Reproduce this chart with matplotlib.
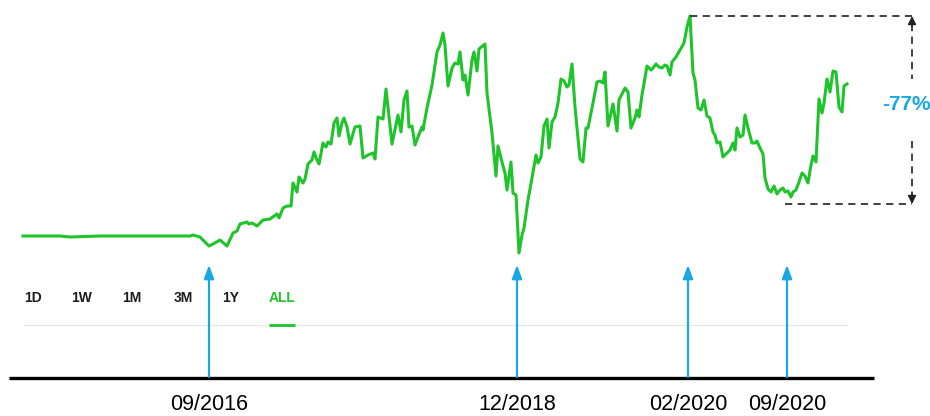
import matplotlib
matplotlib.use("Agg")
import matplotlib.pyplot as plt

# price history (time index, price)
t = [23, 60, 70, 100, 150, 190, 193, 200, 209, 213, 220, 227, 233, 237, 240, 247, 249, 252,
     257, 263, 270, 277, 279, 283, 287, 291, 293, 297, 299, 303, 305, 308, 312, 314, 317, 319,
     323, 326, 328, 331, 334, 337, 339, 342, 344, 347, 350, 355, 360, 363, 368, 373, 375, 378,
     383, 386, 392, 398, 401, 404, 407, 409, 412, 415, 418, 422, 423, 427, 432, 437, 440, 443,
     445, 448, 452, 455, 458, 460, 463, 465, 468, 472, 474, 477, 479, 485, 487, 492, 496, 498,
     502, 505, 507, 511, 513, 516, 519, 522, 524, 528, 532, 536, 538, 541, 544, 547, 549, 552,
     555, 558, 561, 564, 567, 569, 572, 575, 580, 583, 586, 588, 593, 597, 600, 603, 605, 608,
     612, 613, 617, 619, 625, 628, 631, 635, 637, 639, 642, 647, 651, 653, 656, 659, 662, 665,
     667, 670, 672, 676, 680, 684, 687, 690, 693, 695, 698, 701, 704, 707, 710, 713, 715, 717,
     720, 723, 727, 730, 733, 735, 737, 740, 743, 745, 748, 752, 755, 757, 760, 763, 765, 768,
     771, 774, 777, 780, 783, 785, 788, 791, 793, 796, 799, 802, 805, 808, 811, 813, 816, 819,
     822, 824, 827, 830, 833, 836, 839, 842, 844, 847]
price = [9.6, 9.6, 9.2, 9.6, 9.6, 9.6, 10.0, 9.2, 5.6, 6.4, 8.0, 5.6, 10.8, 11.6, 14.4, 15.2, 14.4, 14.8,
         13.6, 16.0, 16.4, 18.4, 16.8, 20.8, 21.6, 21.6, 30.8, 27.2, 33.2, 30.8, 32.4, 38.4, 40.0, 43.2, 40.0, 38.4,
         46.8, 45.2, 47.2, 46.4, 54.8, 56.8, 49.6, 54.8, 56.8, 53.2, 46.4, 53.2, 53.6, 40.8, 42.0, 42.8, 40.4, 57.2,
         56.4, 68.4, 46.4, 58.0, 51.2, 64.0, 67.6, 53.2, 53.6, 46.0, 49.2, 53.2, 52.0, 60.8, 70.0, 83.2, 86.0, 90.8,
         86.0, 69.6, 76.8, 78.8, 78.4, 83.2, 72.0, 74.0, 66.0, 80.0, 83.2, 75.6, 84.4, 86.4, 66.8, 50.8, 33.6, 45.6,
         39.2, 34.8, 28.0, 39.2, 26.8, 26.0, 2.8, 10.0, 12.8, 24.0, 32.8, 42.0, 38.8, 41.2, 53.6, 56.4, 44.8, 55.2,
         57.2, 62.8, 72.4, 71.6, 69.2, 70.0, 78.4, 61.2, 40.4, 39.2, 52.8, 52.8, 62.8, 71.2, 71.6, 70.8, 75.2, 53.6,
         60.8, 62.4, 51.6, 64.0, 68.8, 67.2, 52.8, 56.8, 60.0, 57.2, 66.0, 77.6, 76.0, 76.8, 78.4, 77.2, 76.8, 78.0,
         77.6, 74.0, 79.2, 81.2, 84.0, 86.8, 93.2, 97.6, 74.8, 72.0, 60.8, 60.0, 64.0, 57.6, 56.8, 51.2, 50.0, 46.8,
         47.2, 41.2, 42.8, 44.0, 46.8, 44.0, 52.8, 49.2, 50.0, 58.0, 52.8, 46.8, 46.8, 47.6, 44.8, 42.4, 32.8, 28.4,
         27.2, 29.6, 26.4, 28.0, 28.8, 27.2, 27.6, 25.2, 27.2, 28.0, 31.2, 34.8, 33.6, 30.8, 38.0, 41.6, 39.2, 64.4,
         58.8, 62.8, 72.4, 67.2, 75.6, 75.2, 61.2, 59.2, 69.6, 70.4]

bracket_low = 22.4
drop_label = "-77%"

event_t = [209, 517, 688, 787]
event_labels = ["09/2016", "12/2018", "02/2020", "09/2020"]

ranges = ["1D", "1W", "1M", "3M", "1Y", "ALL"]
range_x = [33, 82, 132, 183, 231, 282]

GREEN = "#1fc42a"
BLUE = "#1aa7e6"

fig = plt.figure(figsize=(9.3, 4.16), dpi=100)

# decoration layer in pixel units
deco = fig.add_axes([0, 0, 1, 1], frameon=False)
deco.set_xlim(0, 930)
deco.set_ylim(416, 0)
deco.axis("off")

# price layer
ax = fig.add_axes([0, 0, 1, 1], frameon=False)
ax.set_xlim(0, 930)
ax.set_ylim(-62.4, 104)
ax.axis("off")

# range selector
deco.plot([24, 848], [324.5, 324.5], color="#e6e8e8", lw=1, solid_capstyle="butt")
for lab, x in zip(ranges, range_x):
    col = GREEN if lab == "ALL" else "#1c1c1c"
    deco.text(x, 298, lab, ha="center", va="center", fontsize=10, fontweight="bold",
              color=col, family="Liberation Sans")
deco.plot([269, 295], [325, 325], color=GREEN, lw=2, solid_capstyle="butt")

# price line
ax.plot(t, price, color=GREEN, lw=2.2, solid_joinstyle="round")

# bottom axis + event arrows
deco.plot([9, 874], [378, 378], color="black", lw=2.4, solid_capstyle="butt")
for x, lab in zip(event_t, event_labels):
    deco.annotate("", xy=(x, 265), xytext=(x, 377),
                  arrowprops=dict(arrowstyle="-|>,head_length=0.8,head_width=0.3",
                                  color=BLUE, lw=1.6, shrinkA=0, shrinkB=0))
    deco.text(x, 405, lab, ha="center", va="center", fontsize=15.5,
              family="Liberation Sans", color="black")

# drop bracket
top = max(price)
peak_t = t[price.index(top)]
low_t = 785
bx = 912
mid = (top + bracket_low) / 2
ax.plot([peak_t, bx], [top, top], color="#333333", lw=1.3, ls=(0, (4, 3)))
ax.plot([low_t, bx], [bracket_low, bracket_low], color="#333333", lw=1.3, ls=(0, (4, 3)))
ax.plot([bx, bx], [top - 3, mid + 12.4], color="#333333", lw=1.3, ls=(0, (4, 3)))
ax.plot([bx, bx], [mid - 12.4, bracket_low + 3], color="#333333", lw=1.3, ls=(0, (4, 3)))
ax.annotate("", xy=(bx, top), xytext=(bx, top - 4),
            arrowprops=dict(arrowstyle="-|>,head_length=0.5,head_width=0.25",
                            color="#222222", lw=1, shrinkA=0, shrinkB=0))
ax.annotate("", xy=(bx, bracket_low), xytext=(bx, bracket_low + 4),
            arrowprops=dict(arrowstyle="-|>,head_length=0.5,head_width=0.25",
                            color="#222222", lw=1, shrinkA=0, shrinkB=0))
ax.text(906, mid + 2.4, drop_label, ha="center", va="center", fontsize=15,
        fontweight="bold", color=BLUE, family="Liberation Sans")

fig.savefig("out.png", dpi=100)
